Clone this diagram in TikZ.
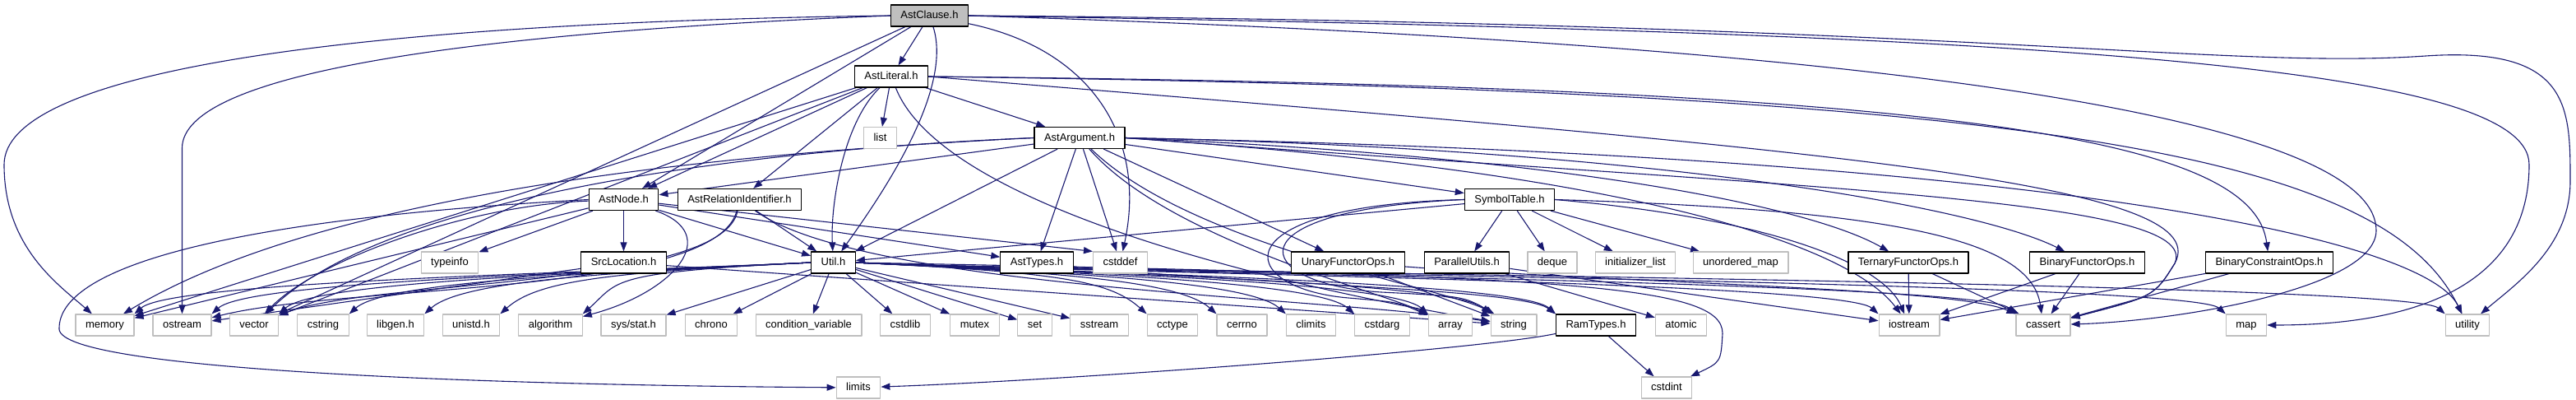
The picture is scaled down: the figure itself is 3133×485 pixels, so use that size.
\documentclass[tikz,border=0pt]{standalone}
\usepackage{fontspec}
\setmainfont{Liberation Sans}
\usetikzlibrary{arrows.meta,calc}
\pgfdeclarelayer{edges}
\pgfsetlayers{edges,main}
\begin{document}
\begin{tikzpicture}[x=1pt,y=-1pt,font=\fontsize{13}{15}\selectfont,line cap=round,line join=round]
\definecolor{edgec}{RGB}{25,25,112}
\definecolor{rootc}{RGB}{191,191,191}
\definecolor{sysc}{RGB}{191,191,191}

\tikzset{
hdrnode/.style={draw=black, line width=1.2pt, fill=white, minimum height=26pt, inner xsep=12pt, inner ysep=0pt, text height=9.5pt, text depth=2.5pt},
sysnode/.style={hdrnode, draw=sysc},
rootnode/.style={hdrnode, fill=rootc},
dep/.style={draw=edgec, line width=1.1pt, -{Triangle[length=11pt,width=8pt]}}
}

\useasboundingbox (0,0) rectangle (3133,485);

\node[rootnode] (clause) at (1130.5,19) {AstClause.h};
\node[hdrnode] (literal) at (1084,93) {AstLiteral.h};
\node[sysnode] (list) at (1070.5,167.5) {list};
\node[hdrnode] (arg) at (1313,167.5) {AstArgument.h};
\node[hdrnode] (astnode) at (758.5,242.5) {AstNode.h};
\node[hdrnode] (relid) at (899.5,242.5) {AstRelationIdentifier.h};
\node[hdrnode] (symtab) at (1836,242.5) {SymbolTable.h};

\node[sysnode] (typeinfo) at (547,319) {typeinfo};
\node[hdrnode] (srcloc) at (758.5,319) {SrcLocation.h};
\node[hdrnode] (util) at (1013.5,319) {Util.h};
\node[hdrnode] (asttypes) at (1261,319) {AstTypes.h};
\node[sysnode] (cstddef) at (1362.5,319) {cstddef};
\node[hdrnode] (unary) at (1639.5,319) {UnaryFunctorOps.h};
\node[hdrnode] (parallel) at (1784,319) {ParallelUtils.h};
\node[sysnode] (deque) at (1888,319) {deque};
\node[sysnode] (initlist) at (1989,319) {initializer\_list};
\node[sysnode] (umap) at (2117,319) {unordered\_map};
\node[hdrnode] (ternary) at (2321,319) {TernaryFunctorOps.h};
\node[hdrnode] (binary) at (2538.5,319) {BinaryFunctorOps.h};
\node[hdrnode] (bincons) at (2760,319) {BinaryConstraintOps.h};

\node[sysnode] (memory) at (127.5,395) {memory};
\node[sysnode] (ostream) at (221.5,395) {ostream};
\node[sysnode] (vector) at (309,395) {vector};
\node[sysnode] (cstring) at (393,395) {cstring};
\node[sysnode] (libgen) at (481,395) {libgen.h};
\node[sysnode] (unistd) at (573,395) {unistd.h};
\node[sysnode] (algorithm) at (669.5,395) {algorithm};
\node[sysnode] (sysstat) at (770.5,395) {sys/stat.h};
\node[sysnode] (chrono) at (865,395) {chrono};
\node[sysnode] (condvar) at (983.5,395) {condition\_variable};
\node[sysnode] (cstdlib) at (1101,395) {cstdlib};
\node[sysnode] (mutex) at (1185.5,395) {mutex};
\node[sysnode] (set) at (1258.5,395) {set};
\node[sysnode] (sstream) at (1337,395) {sstream};
\node[sysnode] (cctype) at (1426,395) {cctype};
\node[sysnode] (cerrno) at (1510.5,395) {cerrno};
\node[sysnode] (climits) at (1594.5,395) {climits};
\node[sysnode] (cstdarg) at (1681,395) {cstdarg};
\node[sysnode] (array) at (1764,395) {array};
\node[sysnode] (string) at (1841,395) {string};
\node[hdrnode] (ramtypes) at (1941,395) {RamTypes.h};
\node[sysnode] (atomic) at (2044.5,395) {atomic};
\node[sysnode] (iostream) at (2322,395) {iostream};
\node[sysnode] (cassert) at (2485,395) {cassert};
\node[sysnode] (map) at (2732,395) {map};
\node[sysnode] (utility) at (3001,395) {utility};

\node[sysnode] (limits) at (1044,471) {limits};
\node[sysnode] (cstdint) at (2027,471) {cstdint};

\begin{pgfonlayer}{edges}
\foreach \a/\b in {clause/literal, clause/astnode, clause/vector,
  literal/arg, literal/list, literal/astnode, literal/relid, literal/memory, literal/vector,
  arg/astnode, arg/asttypes, arg/cstddef, arg/symtab, arg/unary, arg/util,
  relid/util, astnode/srcloc, astnode/typeinfo, astnode/util, astnode/asttypes, astnode/memory,
  srcloc/ostream, srcloc/string, symtab/util, symtab/parallel, symtab/deque, symtab/initlist, symtab/umap,
  unary/string, parallel/atomic, parallel/iostream, ternary/iostream, ternary/cassert,
  binary/iostream, binary/cassert, bincons/iostream, bincons/cassert, ramtypes/cstdint,
  util/sysstat, util/chrono, util/condvar, util/cstdlib, util/mutex, util/set, util/sstream}
  \draw[dep] (\a) -- (\b);
\draw[dep] (astnode) -- (cstddef.north west);

\foreach \b in {memory, ostream, vector, cstring, libgen, unistd, algorithm}
  \draw[dep] (util.west) .. controls ($(util.west)+(-250,12)$) and ($(\b.north east)+(45,-40)$) .. (\b.north east);
\foreach \b in {cctype, cerrno, climits, cstdarg, array, string, ramtypes, iostream, cassert, map, utility}
  \draw[dep] (util.east) .. controls ($(util.east)+(250,12)$) and ($(\b.north west)+(-45,-40)$) .. (\b.north west);

\draw[dep] (clause.west) .. controls (400,28) and (5,90) .. (5,200) .. controls (5,300) and (70,345) .. (memory);
\draw[dep] (clause.west) .. controls (560,40) and (221.5,90) .. (221.5,180) -- (ostream);
\draw[dep] (clause) .. controls (1160,110) and (1070,240) .. (util);
\draw[dep] (clause) .. controls (1330,60) and (1395,170) .. (cstddef);
\draw[dep] (clause.east) .. controls (2500,40) and (3076,80) .. (3076,200) .. controls (3076,340) and (2950,395) .. (map);
\draw[dep] (clause.east) .. controls (2400,28) and (2700,85) .. (2950,68) .. controls (3126,56) and (3126,130) .. (3126,220) .. controls (3126,300) and (3060,345) .. (utility);
\draw[dep] (clause.east) .. controls (2500,60) and (2890,170) .. (2890,280) .. controls (2890,350) and (2650,390) .. (cassert);

\draw[dep] (literal) .. controls (1025,150) and (1010,250) .. (util);
\draw[dep] (literal) .. controls (1150,260) and (1600,355) .. (string);
\draw[dep] (literal.east) .. controls (2200,180) and (2700,220) .. (2645,320) .. controls (2620,360) .. (cassert);
\draw[dep] (literal.east) .. controls (2500,110) and (2900,190) .. (utility);
\draw[dep] (literal.east) .. controls (2400,105) and (2740,170) .. (bincons);

\draw[dep] (arg.west) .. controls (900,185) and (400,230) .. (memory);
\draw[dep] (arg.west) .. controls (950,180) and (480,230) .. (vector);
\draw[dep] (arg.east) .. controls (1900,190) and (2200,250) .. (ternary);
\draw[dep] (arg.east) .. controls (2000,180) and (2400,250) .. (binary);
\draw[dep] (arg.east) .. controls (2000,210) and (2250,300) .. (iostream);
\draw[dep] (arg.east) .. controls (2200,230) and (2680,240) .. (2645,320) .. controls (2620,360) .. (cassert);
\draw[dep] (arg.east) .. controls (2500,190) and (2950,290) .. (utility);
\draw[dep] (arg) .. controls (1420,290) and (1680,355) .. (array);
\draw[dep] (arg) .. controls (1450,300) and (1760,350) .. (string);

\draw[dep] (astnode.west) .. controls (300,265) and (70,320) .. (72,400) .. controls (75,450) and (600,468) .. (limits);
\draw[dep] (astnode) .. controls (880,285) and (820,355) .. (algorithm);
\draw[dep] (astnode) .. controls (560,250) and (380,320) .. (vector);

\draw[dep] (relid) .. controls (880,350) and (450,340) .. (vector);
\draw[dep] (relid) .. controls (870,360) and (420,345) .. (ostream);
\draw[dep] (relid) .. controls (1050,350) and (1600,360) .. (string);

\draw[dep] (symtab.east) .. controls (2150,265) and (2290,320) .. (iostream);
\draw[dep] (symtab.east) .. controls (2300,255) and (2470,290) .. (cassert);
\draw[dep] (symtab.west) .. controls (1480,250) and (1500,350) .. (1640,362) .. controls (1700,367) .. (array);
\draw[dep] (symtab.west) .. controls (1490,255) and (1520,345) .. (1680,355) .. controls (1780,360) .. (string);

\draw[dep] (unary) .. controls (2000,345) and (2380,350) .. (cassert.north west);
\draw[dep] (asttypes) .. controls (1500,345) and (1850,350) .. (ramtypes.north west);
\draw[dep] (ramtypes) .. controls (1800,425) and (1300,462) .. (limits);
\draw[dep] (util.east) .. controls (1900,335) and (2095,345) .. (2095,405) .. controls (2093,440) .. (cstdint);
\end{pgfonlayer}
\end{tikzpicture}
\end{document}
